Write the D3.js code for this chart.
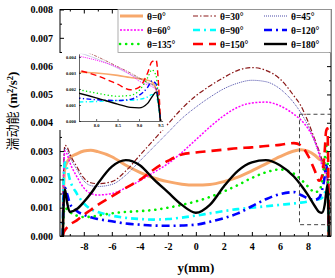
<!DOCTYPE html>
<html>
<head>
<meta charset="utf-8">
<script src="https://cdn.jsdelivr.net/npm/d3@7"></script>
<style>
  body { margin: 0; background: #fff; }
  svg { display: block; }
</style>
</head>
<body>
<div id="wrapper"></div>
<script>
// sample positions across the channel (mm)
const yPos = [-9.5, -9.45, -9.35, -9.2, -9.0, -8.5, -8.0, -7.5, -7.0, -6.0, -5.0, -4.0, -3.0, -2.0, -1.0, 0,
              1, 2, 3, 4, 5, 6, 7, 7.5, 8.0, 8.5, 8.8, 9.0, 9.2, 9.3, 9.4, 9.45, 9.5];

// turbulent kinetic energy (m2/s2) for each angle
const k0   = [0, 0.0015, 0.0024, 0.0026, 0.00275, 0.0029, 0.0030, 0.00303, 0.00298, 0.0028, 0.0025, 0.00225, 0.00205, 0.00192, 0.00183, 0.0018,
              0.00182, 0.00192, 0.00208, 0.0023, 0.00255, 0.0028, 0.0030, 0.00305, 0.0030, 0.00285, 0.00272, 0.00265, 0.00255, 0.00245, 0.0020, 0.0012, 0];
const k30  = [0, 0.0022, 0.0032, 0.00315, 0.0029, 0.00245, 0.00205, 0.00188, 0.00185, 0.00192, 0.0023, 0.00285, 0.0034, 0.00395, 0.0045, 0.00495,
              0.0053, 0.0056, 0.00585, 0.00595, 0.00585, 0.00555, 0.00495, 0.0046, 0.00405, 0.0034, 0.0030, 0.0027, 0.0024, 0.0023, 0.0020, 0.0013, 0];
const k45  = [0, 0.0021, 0.0031, 0.00305, 0.0028, 0.00235, 0.00195, 0.00178, 0.00175, 0.00182, 0.00215, 0.00265, 0.00315, 0.00365, 0.00415, 0.00455,
              0.0049, 0.0052, 0.0054, 0.0055, 0.00545, 0.0052, 0.0047, 0.00435, 0.0039, 0.0033, 0.0029, 0.00265, 0.00235, 0.00225, 0.00195, 0.0013, 0];
const k60  = [0, 0.0020, 0.0030, 0.0029, 0.0026, 0.0021, 0.0017, 0.0015, 0.00145, 0.0015, 0.0017, 0.00195, 0.00225, 0.00255, 0.00295, 0.0034,
              0.00385, 0.00425, 0.00455, 0.0047, 0.00473, 0.0046, 0.0043, 0.0041, 0.0038, 0.00335, 0.0029, 0.0025, 0.00225, 0.00215, 0.0019, 0.0012, 0];
const k90  = [0, 0.0018, 0.0026, 0.0024, 0.0020, 0.0015, 0.00115, 0.00095, 0.00085, 0.00072, 0.00064, 0.0006, 0.00058, 0.0006, 0.00065, 0.00072,
              0.0008, 0.00088, 0.00095, 0.0010, 0.00105, 0.0011, 0.00115, 0.00118, 0.00122, 0.00128, 0.0013, 0.00135, 0.0015, 0.00165, 0.0016, 0.0010, 0];
const k120 = [0, 0.0012, 0.0017, 0.0015, 0.00115, 0.00088, 0.00075, 0.00066, 0.0006, 0.00052, 0.00044, 0.0004, 0.00037, 0.00036, 0.00037, 0.0004,
              0.0005, 0.00063, 0.0008, 0.00105, 0.0013, 0.00148, 0.00155, 0.00145, 0.00133, 0.00128, 0.00135, 0.0016, 0.0021, 0.0025, 0.0023, 0.0014, 0];
const k135 = [0, 0.0007, 0.0010, 0.00095, 0.00085, 0.00072, 0.00067, 0.00068, 0.00072, 0.0008, 0.00085, 0.00088, 0.00092, 0.0010, 0.0011, 0.00122,
              0.00138, 0.00157, 0.0018, 0.00205, 0.00225, 0.00235, 0.0022, 0.0020, 0.00175, 0.00155, 0.0016, 0.0019, 0.0027, 0.0032, 0.0028, 0.0016, 0];
const k150 = [0, 0.0001, 0.0002, 0.0003, 0.0004, 0.00055, 0.00075, 0.00092, 0.0011, 0.0014, 0.0017, 0.00198, 0.00235, 0.00265, 0.00288, 0.00295,
              0.0030, 0.00305, 0.0031, 0.00313, 0.00318, 0.00322, 0.00328, 0.0032, 0.00285, 0.0023, 0.00195, 0.0021, 0.0030, 0.0037, 0.0038, 0.0025, 0];
const k180 = [0, 0.0010, 0.00165, 0.0012, 0.00085, 0.00095, 0.0012, 0.0015, 0.00185, 0.00245, 0.00268, 0.0025, 0.0020, 0.00155, 0.0011, 0.00082,
              0.0011, 0.00175, 0.0023, 0.0026, 0.00268, 0.0025, 0.0021, 0.0018, 0.00145, 0.00105, 0.00085, 0.00082, 0.0011, 0.0015, 0.0018, 0.0012, 0];

const labels = ["θ=0°", "θ=30°", "θ=45°", "θ=60°", "θ=90°", "θ=120°", "θ=135°", "θ=150°", "θ=180°"];
const values = [k0, k30, k45, k60, k90, k120, k135, k150, k180];

const xTicks = [-8, -6, -4, -2, 0, 2, 4, 6, 8];
const yTicks = [0, 0.001, 0.002, 0.003, 0.004, 0.005, 0.006, 0.007, 0.008];
const insetXTicks = [8.0, 8.5, 9.0, 9.5];
const insetYTicks = [0, 0.001, 0.002, 0.003, 0.004];

// line styles per series
const styles = [
  { color: "#f7a86c", width: 3,   dash: null,        cap: "butt" },
  { color: "#8b1a1a", width: 1.2, dash: "5,2,1.5,2", cap: "butt" },
  { color: "#4b4ba8", width: 1,   dash: "1,1",       cap: "butt" },
  { color: "#ff00ff", width: 1.5, dash: "2,1.5",     cap: "butt" },
  { color: "#00ffff", width: 2.6, dash: "7,4,2,4",   cap: "butt" },
  { color: "#0000ff", width: 2.6, dash: "8,4,2,4",   cap: "butt" },
  { color: "#00ee00", width: 2.6, dash: "0.1,6",     cap: "round" },
  { color: "#ff0000", width: 2.6, dash: "10,6",      cap: "butt" },
  { color: "#000000", width: 2.4, dash: null,        cap: "butt" }
];

const width = 335;
const height = 278;
const mLeft = 60, mRight = 331, mTop = 9.5, mBottom = 236;

const svg = d3.select("#wrapper")
  .append("svg")
  .attr("width", width)
  .attr("height", height);

const x = d3.scaleLinear().domain([-9.7, 9.65]).range([mLeft, mRight]);
const y = d3.scaleLinear().domain([0, 0.008]).range([mBottom, mTop]);

svg.append("clipPath").attr("id", "plotClip")
  .append("rect").attr("x", mLeft).attr("y", mTop).attr("width", mRight - mLeft).attr("height", mBottom - mTop);

const line = d3.line()
  .x((d, i) => x(yPos[i]))
  .y(d => y(d))
  .curve(d3.curveMonotoneX);

const plot = svg.append("g").attr("clip-path", "url(#plotClip)");
values.forEach((v, i) => {
  plot.append("path")
    .datum(v)
    .attr("d", line)
    .attr("fill", "none")
    .attr("stroke", styles[i].color)
    .attr("stroke-width", styles[i].width)
    .attr("stroke-dasharray", styles[i].dash)
    .attr("stroke-linecap", styles[i].cap);
});

// dashed zoom box
plot.append("rect")
  .attr("x", x(7.4)).attr("y", y(0.0043))
  .attr("width", x(9.62) - x(7.4)).attr("height", y(0.0004) - y(0.0043))
  .attr("fill", "none").attr("stroke", "#444").attr("stroke-width", 1)
  .attr("stroke-dasharray", "4,3");

// axes (ticks pointing inward)
const fontSerif = "'Liberation Serif', 'Times New Roman', serif";
const minorX = d3.range(-9, 10, 1).filter(d => d % 2 !== 0);
const minorY = d3.range(0.0005, 0.008, 0.001);

function styleAxis(g) {
  g.select(".domain").remove();
  g.selectAll("line").attr("stroke", "#000");
  g.selectAll("text").attr("font-family", fontSerif).attr("font-weight", "bold")
    .attr("font-size", 10).attr("fill", "#000");
}

svg.append("g").attr("transform", `translate(0,${mBottom})`)
  .call(d3.axisBottom(x).tickValues(xTicks).tickSize(-4).tickPadding(7).tickFormat(d => String(d)))
  .call(styleAxis);
svg.append("g").attr("transform", `translate(0,${mBottom})`)
  .call(d3.axisBottom(x).tickValues(minorX).tickSize(-2).tickFormat(""))
  .call(styleAxis);
svg.append("g").attr("transform", `translate(0,${mTop})`)
  .call(d3.axisTop(x).tickValues(xTicks).tickSize(-4).tickFormat(""))
  .call(styleAxis);
svg.append("g").attr("transform", `translate(0,${mTop})`)
  .call(d3.axisTop(x).tickValues(minorX).tickSize(-2).tickFormat(""))
  .call(styleAxis);

svg.append("g").attr("transform", `translate(${mLeft},0)`)
  .call(d3.axisLeft(y).tickValues(yTicks).tickSize(-4).tickPadding(7).tickFormat(d3.format(".3f")))
  .call(styleAxis);
svg.append("g").attr("transform", `translate(${mLeft},0)`)
  .call(d3.axisLeft(y).tickValues(minorY).tickSize(-2).tickFormat(""))
  .call(styleAxis);
svg.append("g").attr("transform", `translate(${mRight},0)`)
  .call(d3.axisRight(y).tickValues(yTicks).tickSize(-4).tickFormat(""))
  .call(styleAxis);
svg.append("g").attr("transform", `translate(${mRight},0)`)
  .call(d3.axisRight(y).tickValues(minorY).tickSize(-2).tickFormat(""))
  .call(styleAxis);

svg.append("rect")
  .attr("x", mLeft).attr("y", mTop).attr("width", mRight - mLeft).attr("height", mBottom - mTop)
  .attr("fill", "none").attr("stroke", "#000").attr("stroke-width", 1);

// axis titles
svg.append("text")
  .attr("x", x(0)).attr("y", 272)
  .attr("text-anchor", "middle")
  .attr("font-family", fontSerif).attr("font-weight", "bold").attr("font-size", 13)
  .text("y(mm)");

const yTitle = svg.append("text")
  .attr("transform", "translate(17,111) rotate(-90)")
  .attr("text-anchor", "middle")
  .attr("font-size", 13);
yTitle.append("tspan").attr("font-family", "'Noto Sans CJK SC', sans-serif").text("湍动能");
yTitle.append("tspan").attr("font-family", fontSerif).attr("font-weight", "bold").text(" (m");
yTitle.append("tspan").attr("font-family", fontSerif).attr("font-weight", "bold")
  .attr("font-size", 8.5).attr("dy", -4.5).text("2");
yTitle.append("tspan").attr("font-family", fontSerif).attr("font-weight", "bold").attr("dy", 4.5).text("/s");
yTitle.append("tspan").attr("font-family", fontSerif).attr("font-weight", "bold")
  .attr("font-size", 8.5).attr("dy", -4.5).text("2");
yTitle.append("tspan").attr("font-family", fontSerif).attr("font-weight", "bold").attr("dy", 4.5).text(")");

// legend
const legend = svg.append("g");
legend.append("rect")
  .attr("x", 118).attr("y", 9.5).attr("width", 213).attr("height", 43)
  .attr("fill", "#fff").attr("stroke", "#999").attr("stroke-width", 0.8);
const colX = [119, 192, 263];
const rowY = [16, 30, 44];
labels.forEach((lab, i) => {
  const cx = colX[i % 3];
  const cy = rowY[Math.floor(i / 3)];
  legend.append("line")
    .attr("x1", cx + 1).attr("x2", cx + 24).attr("y1", cy).attr("y2", cy)
    .attr("stroke", styles[i].color)
    .attr("stroke-width", styles[i].width)
    .attr("stroke-dasharray", styles[i].dash)
    .attr("stroke-linecap", styles[i].cap);
  legend.append("text")
    .attr("x", cx + 28).attr("y", cy + 3.5)
    .attr("font-family", fontSerif).attr("font-weight", "bold").attr("font-size", 9.5)
    .text(lab);
});

// inset
const ix = d3.scaleLinear().domain([7.6, 9.55]).range([79, 162.6]);
const iy = d3.scaleLinear().domain([0, 0.0042]).range([121, 53.8]);

svg.append("rect")
  .attr("x", 58).attr("y", 53).attr("width", 108).attr("height", 77)
  .attr("fill", "#fff");

svg.append("clipPath").attr("id", "insetClip")
  .append("rect").attr("x", ix(7.6)).attr("y", iy(0.0042)).attr("width", ix(9.55) - ix(7.6)).attr("height", iy(0) - iy(0.0042));

const iline = d3.line()
  .x((d, i) => ix(yPos[i]))
  .y(d => iy(d))
  .curve(d3.curveMonotoneX);

const inset = svg.append("g").attr("clip-path", "url(#insetClip)");
values.forEach((v, i) => {
  inset.append("path")
    .datum(v)
    .attr("d", iline)
    .attr("fill", "none")
    .attr("stroke", styles[i].color)
    .attr("stroke-width", styles[i].width * 0.55)
    .attr("stroke-dasharray", styles[i].dash ? styles[i].dash.split(",").map(d => +d * 0.6).join(",") : null)
    .attr("stroke-linecap", styles[i].cap);
});

function styleInset(g) {
  g.select(".domain").attr("stroke", "#000").attr("stroke-width", 0.6);
  g.selectAll("line").attr("stroke", "#000").attr("stroke-width", 0.6);
  g.selectAll("text").attr("font-family", fontSerif).attr("font-weight", "bold")
    .attr("font-size", 4.5).attr("fill", "#000");
}
svg.append("g").attr("transform", `translate(0,${iy(0)})`)
  .call(d3.axisBottom(ix).tickValues(insetXTicks).tickSize(-2).tickSizeOuter(0).tickPadding(3).tickFormat(d3.format(".1f")))
  .call(styleInset);
svg.append("g").attr("transform", `translate(${ix(7.6)},0)`)
  .call(d3.axisLeft(iy).tickValues(insetYTicks).tickSize(-2).tickSizeOuter(0).tickPadding(3).tickFormat(d3.format(".3f")))
  .call(styleInset);
</script>
</body>
</html>
